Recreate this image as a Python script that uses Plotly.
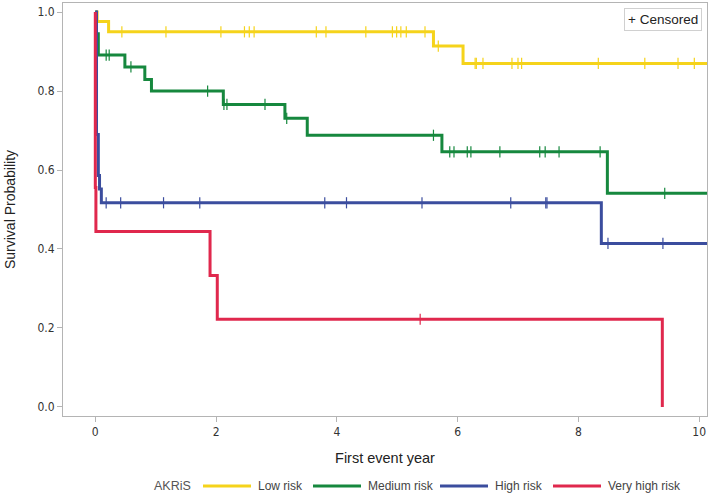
import plotly.graph_objects as go

# ---- data ----
groups = ["Low risk", "Medium risk", "High risk", "Very high risk"]
colors = ["#f5d31b", "#16883e", "#3b4d9e", "#e0284d"]

low_t = [0, 0.03, 0.22, 5.60, 6.09, 10.3]
low_s = [1.0, 0.976, 0.95, 0.914, 0.87, 0.87]
low_ct = [0.44, 1.17, 2.08, 2.47, 2.55, 2.63, 3.66, 3.82, 4.48, 4.92, 4.99, 5.06, 5.15, 5.46,
          5.68, 6.29, 6.31, 6.42, 6.90, 7.00, 7.06, 8.33, 9.10, 9.65, 9.92]

med_t = [0, 0.01, 0.05, 0.49, 0.82, 0.93, 2.12, 3.14, 3.51, 5.74, 8.48, 10.3]
med_s = [1.0, 0.945, 0.891, 0.861, 0.829, 0.80, 0.766, 0.731, 0.688, 0.646, 0.541, 0.541]
med_ct = [0.18, 0.23, 0.59, 1.86, 2.13, 2.18, 2.81, 3.17, 5.60, 5.87, 5.94, 6.16, 6.22, 6.70,
          7.36, 7.45, 7.68, 8.36, 9.43]

high_t = [0, 0.02, 0.05, 0.07, 0.10, 8.38, 10.3]
high_s = [1.0, 0.69, 0.586, 0.552, 0.517, 0.414, 0.414]
high_ct = [0.18, 0.42, 1.13, 1.73, 3.80, 4.16, 5.41, 6.88, 7.46, 7.48, 8.49, 9.40]

vhigh_t = [0, 0.0, 0.01, 1.90, 2.02, 9.39]
vhigh_s = [1.0, 0.556, 0.444, 0.333, 0.222, 0.0]
vhigh_ct = [5.38]

x_ticks = [0, 2, 4, 6, 8, 10]
y_ticks = [0.0, 0.2, 0.4, 0.6, 0.8, 1.0]
legend_title = "AKRiS"


def surv_at(ts, ss, t):
    v = ss[0]
    for ti, si in zip(ts, ss):
        if ti <= t:
            v = si
    return v


series = [(low_t, low_s, low_ct), (med_t, med_s, med_ct),
          (high_t, high_s, high_ct), (vhigh_t, vhigh_s, vhigh_ct)]

fig = go.Figure()
for name, col, (ts, ss, cts) in zip(groups, colors, series):
    fig.add_trace(go.Scatter(
        x=ts, y=ss, mode="lines", line=dict(color=col, width=3, shape="hv"),
        name=name, showlegend=False, cliponaxis=True))
    fig.add_trace(go.Scatter(
        x=cts, y=[surv_at(ts, ss, c) for c in cts], mode="markers", name=name + " (censored)",
        marker=dict(symbol="line-ns-open", size=8, color=col, line=dict(color=col, width=1.2)),
        showlegend=False, hoverinfo="skip"))

axis_common = dict(
    showline=True, linecolor="#b4b4b4", linewidth=1, mirror=True, automargin=False,
    ticks="outside", ticklen=5, tickcolor="#b4b4b4", showgrid=False, zeroline=False,
    tickfont=dict(family="DejaVu Sans Condensed, Liberation Sans Narrow, Arial", size=12, color="#333333"),
)

L, R, T, B, W, H = 63, 5, 3, 80, 712, 496
PW, PH = W - L - R, H - T - B

fig.update_layout(
    width=W, height=H,
    margin=dict(l=L, r=R, t=T, b=B, autoexpand=False),
    paper_bgcolor="white", plot_bgcolor="white",
    font=dict(family="Liberation Sans, Arial", size=12, color="#333333"),
    xaxis=dict(range=[-0.535, 10.13], tickvals=x_ticks, ticktext=[str(v) for v in x_ticks],
               title=dict(text="First event year", font=dict(size=14.5, color="#222222"), standoff=14),
               **axis_common),
    yaxis=dict(range=[-0.023, 1.023], tickvals=y_ticks, ticktext=[f"{v:.1f}" for v in y_ticks],
               title=dict(text="Survival Probability", font=dict(size=14, color="#222222"), standoff=18),
               **axis_common),
    showlegend=False,
)

# custom legend row (long line samples like the reference)
def px_x(px):
    return (px - L) / PW

def px_y(py):
    return (H - B - py) / PH

ly = 486
fig.add_annotation(xref="paper", yref="paper", x=px_x(152), y=px_y(ly), xanchor="left", yanchor="middle",
                   text=legend_title, showarrow=False, font=dict(size=12.5, color="#555555"))
line_starts = [203, 313, 440, 553]
for name, col, x0 in zip(groups, colors, line_starts):
    fig.add_shape(type="line", xref="paper", yref="paper", x0=px_x(x0), x1=px_x(x0 + 48),
                  y0=px_y(ly), y1=px_y(ly), line=dict(color=col, width=3))
    fig.add_annotation(xref="paper", yref="paper", x=px_x(x0 + 53), y=px_y(ly), xanchor="left",
                       yanchor="middle", text=name, showarrow=False,
                       font=dict(size=12, color="#444444"))

fig.add_annotation(
    xref="paper", yref="paper", x=0.993, y=0.987, xanchor="right", yanchor="top",
    text="+ Censored", showarrow=False, bordercolor="#d0d0d0", borderwidth=1, borderpad=3,
    bgcolor="white", font=dict(size=13.5, color="#222222"))

fig.write_html("out.html", config={"displayModeBar": False},
               post_script="document.body.style.margin='0px';")
